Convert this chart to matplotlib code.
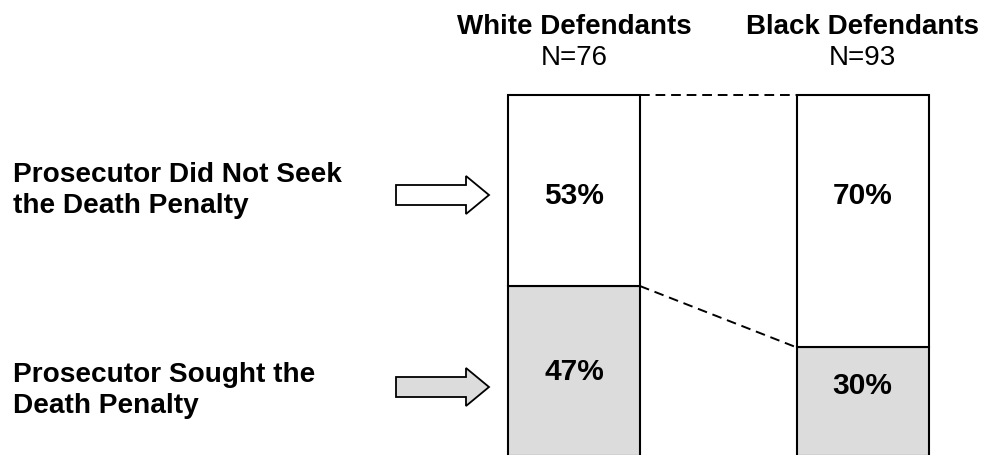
import matplotlib
matplotlib.use("Agg")
import matplotlib.pyplot as plt
from matplotlib.patches import Polygon
import matplotlib.transforms as mtransforms

# ---- data ----
groups = ["White Defendants", "Black Defendants"]
group_n = ["N=76", "N=93"]
not_sought = [53, 70]
sought = [47, 30]
row_labels = [["Prosecutor Did Not Seek", "the Death Penalty"],
              ["Prosecutor Sought the", "Death Penalty"]]

W, H = 985, 455
fig = plt.figure(figsize=(W / 100, H / 100), dpi=100)
fig.patch.set_facecolor("white")
plt.rcParams["font.family"] = ["Liberation Sans", "DejaVu Sans"]

# axes fills the figure; x: bar index, y: percent
ax = fig.add_axes([0, 0, 1, 1])
px_per_unit = 288.5
x0_px = 574.0
ax.set_xlim(-x0_px / px_per_unit, (W - x0_px) / px_per_unit)
top_px, bottom_px = 95.0, 455.5
px_per_pct = (bottom_px - top_px) / 100.0
ax.set_ylim(-(H - bottom_px) / px_per_pct, 100 + top_px / px_per_pct)
ax.axis("off")

bar_w = 132 / px_per_unit
gray = "#dcdcdc"
xs = list(range(len(groups)))
ax.bar(xs, sought, width=bar_w, color=gray, edgecolor="black", linewidth=1.5, zorder=2)
ax.bar(xs, not_sought, bottom=sought, width=bar_w, color="white",
       edgecolor="black", linewidth=1.5, zorder=2)

# dashed connectors
for a, b in [(0, 0), (sought[0], sought[1]), (100, 100)]:
    ax.plot([xs[0] + bar_w / 2, xs[1] - bar_w / 2], [a, b], color="black",
            linestyle=(0, (5, 3)), linewidth=1.4, zorder=3)

# pixel transform (origin top-left) for annotation placement
pix = mtransforms.Affine2D().scale(1 / W, -1 / H).translate(0, 1) + fig.transFigure
# blended: x in data (bar index), y in pixels from top
blend = mtransforms.blended_transform_factory(ax.transData, pix)

top_label_y = [196, 196]
bottom_label_y = [372, 386]
for i in xs:
    ax.text(i, top_label_y[i], f"{not_sought[i]}%", transform=blend, ha="center",
            va="center", fontsize=21.5, fontweight="bold", zorder=4)
    ax.text(i, bottom_label_y[i], f"{sought[i]}%", transform=blend, ha="center",
            va="center", fontsize=21.5, fontweight="bold", zorder=4)
    ax.text(i, 34, groups[i], transform=blend, ha="center", va="baseline",
            fontsize=20, fontweight="bold")
    ax.text(i, 65, group_n[i], transform=blend, ha="center", va="baseline",
            fontsize=20)

line1_base = [182, 382]
arrow_y = [195, 387]
arrow_fill = ["white", gray]
for lines, lb, ay, fc in zip(row_labels, line1_base, arrow_y, arrow_fill):
    for k, line in enumerate(lines):
        fig.text(13, lb + 31 * k, line, transform=pix, ha="left", va="baseline",
                 fontsize=20.2, fontweight="bold")
    x1, x2, x3 = 396, 466, 489
    bh, hh = 10, 19
    pts = [(x1, ay - bh), (x2, ay - bh), (x2, ay - hh), (x3, ay),
           (x2, ay + hh), (x2, ay + bh), (x1, ay + bh)]
    fig.add_artist(Polygon(pts, closed=True, transform=pix, facecolor=fc,
                           edgecolor="black", linewidth=1.3))

fig.savefig("out.png", dpi=100)
